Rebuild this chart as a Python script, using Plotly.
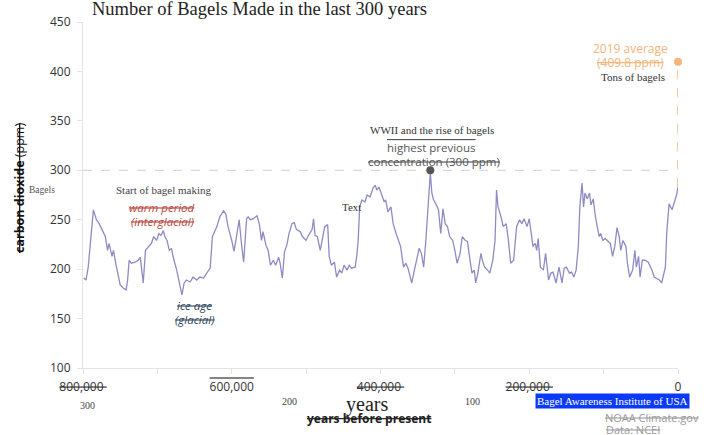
import plotly.graph_objects as go

# CO2 record (thousand years before present, ppm)
years_kyr = [799, 796, 793, 789, 786, 782, 779, 775, 770, 767, 765, 761, 759, 756, 753, 750, 746, 742, 740, 738,
             735, 730, 726, 723, 721, 719, 716, 712, 708, 705, 701, 698, 695, 692, 690, 687, 684, 681, 679, 674,
             671, 667, 664, 661, 656, 652, 647, 643, 638, 634, 629, 626, 620, 616, 611, 608, 605, 600, 597, 593,
             590, 587, 584, 580, 578, 575, 571, 566, 563, 560, 558, 554, 551, 548, 544, 541, 537, 535, 532, 529,
             526, 523, 519, 516, 513, 508, 505, 500, 497, 492, 490, 488, 485, 481, 478, 475, 471, 469, 466, 462,
             459, 455, 452, 449, 445, 442, 439, 434, 432, 430, 428, 425, 421, 418, 414, 410, 407, 405, 402, 398,
             395, 393, 390, 386, 383, 379, 376, 373, 369, 366, 363, 358, 355, 351, 348, 345, 342, 339, 337, 334,
             333, 331, 329, 325, 322, 319, 316, 313, 310, 307, 303, 300, 297, 293, 290, 286, 283, 281, 277, 274,
             272, 269, 265, 263, 260, 256, 253, 249, 246, 244, 242, 238, 235, 231, 228, 225, 221, 217, 213, 210,
             207, 203, 200, 195, 192, 190, 188, 185, 181, 178, 174, 171, 168, 164, 160, 156, 153, 150, 146, 143,
             140, 137, 134, 132, 129, 127, 125, 122, 119, 117, 114, 111, 108, 106, 104, 101, 98, 95, 91, 88,
             85, 82, 79, 77, 74, 70, 68, 65, 61, 58, 56, 53, 51, 48, 44, 40, 35, 32, 29, 25,
             22, 20, 17, 15, 12, 8, 6, 4, 2, 0]
co2_ppm = [191, 189, 202, 233, 260, 250, 247, 241, 233, 219, 226, 213, 219, 206, 196, 184, 181, 179, 189, 209,
           206, 207, 209, 212, 199, 186, 219, 223, 226, 233, 229, 236, 234, 239, 233, 229, 219, 221, 213, 199,
           189, 174, 186, 189, 187, 192, 189, 192, 191, 196, 201, 233, 243, 253, 259, 256, 243, 229, 218, 236,
           250, 226, 207, 251, 253, 250, 251, 254, 246, 229, 238, 224, 219, 204, 209, 204, 212, 206, 191, 218,
           224, 236, 246, 247, 240, 238, 233, 229, 234, 240, 251, 234, 233, 219, 231, 243, 245, 213, 204, 207,
           192, 199, 196, 204, 199, 204, 201, 202, 213, 229, 263, 270, 268, 275, 273, 282, 285, 280, 283, 275,
           268, 270, 258, 263, 246, 236, 229, 223, 202, 206, 201, 186, 197, 209, 221, 216, 202, 229, 253, 290,
           298, 277, 271, 265, 260, 236, 261, 246, 243, 233, 229, 219, 206, 216, 233, 229, 228, 216, 196, 199,
           186, 196, 216, 209, 202, 199, 196, 209, 229, 280, 263, 253, 243, 246, 229, 206, 209, 243, 250, 246,
           251, 243, 251, 223, 226, 219, 231, 202, 199, 216, 189, 196, 197, 186, 202, 186, 201, 202, 196, 197,
           192, 199, 223, 263, 287, 263, 277, 271, 277, 265, 271, 253, 243, 233, 236, 229, 231, 229, 226, 213,
           223, 242, 233, 219, 229, 223, 206, 192, 199, 219, 202, 213, 192, 209, 209, 207, 199, 192, 191, 189,
           186, 194, 202, 238, 266, 260, 265, 270, 275, 283]

years = [k * 1000 for k in years_kyr]

prev_high_year = [333000]
prev_high_ppm = [300]
avg2019_year = [0]
avg2019_ppm = [409.8]

x_tickvals = [800000, 700000, 600000, 500000, 400000, 300000, 200000, 100000, 0]
x_ticktext = ["<s>800,000 </s>", "", "<span style='text-decoration:overline'>600,000</span>", "",
              "<s>400,000 </s>", "", "<s>200,000 </s>", "", "0"]
y_tickvals = [100, 150, 200, 250, 300, 350, 400, 450]

# plot box in window pixels: left 83, right 678, top 22, bottom 368
PL, PR, PT, PB = 83, 678, 22, 368
W, H = 707, 435
pw, ph = PR - PL, PB - PT


def px(xp):
    return (xp - PL) / pw


def py(yp):
    return (PB - yp) / ph


fig = go.Figure()

fig.add_trace(go.Scatter(x=years, y=co2_ppm, mode="lines",
                         line=dict(color="#8e8bc3", width=1.3), hoverinfo="skip"))

# 300 ppm dashed reference
fig.add_shape(type="line", xref="x", yref="y", x0=800000, x1=3000, y0=300, y1=300,
              line=dict(color="#d0d0d0", width=1, dash="dash"), layer="below")
# orange dashed to 2019 average
fig.add_shape(type="line", xref="x", yref="y", x0=0, x1=0, y0=co2_ppm[-1], y1=avg2019_ppm[0],
              line=dict(color="#f2b67c", width=1.5, dash="dash"))

fig.add_trace(go.Scatter(x=prev_high_year, y=prev_high_ppm, mode="markers",
                         marker=dict(color="#555555", size=8), cliponaxis=False, hoverinfo="skip"))
fig.add_trace(go.Scatter(x=avg2019_year, y=avg2019_ppm, mode="markers",
                         marker=dict(color="#f2b67c", size=8), cliponaxis=False, hoverinfo="skip"))

serif = "Liberation Serif"
sans = "Open Sans"


def ann(text, xp, yp, size=11, color="#333", family=serif, xanchor="center", **kw):
    fig.add_annotation(text=text, xref="paper", yref="paper", x=px(xp), y=py(yp),
                       xanchor=xanchor, yanchor="middle", showarrow=False,
                       font=dict(size=size, color=color, family=family), **kw)


ann("Number of Bagels Made in the last 300 years", 90, 9, size=18.5, color="#222", xanchor="left")
ann("Start of bagel making", 164, 190, size=11, color="#444")
ann("<s><i>warm period</i></s>", 162, 207, size=11.5, color="#b8473f", family=sans)
ann("<s><i>(interglacial)</i></s>", 162, 221, size=11.5, color="#b8473f", family=sans)
ann("<s><i>ice age</i></s>", 194, 305, size=11.5, color="#34475e", family=sans)
ann("<s><i>(glacial)</i></s>", 194, 319, size=11.5, color="#34475e", family=sans)
ann("Text", 351, 207, size=11, color="#333")
ann("WWII and the rise of bagels", 432, 130, size=11, color="#333")
ann("<span style='text-decoration:overline'>highest previous</span>", 431, 147.5, size=11.5, color="#555", family=sans)
ann("<s>concentration (300 ppm)</s>", 434, 161, size=11.5, color="#555", family=sans)
ann("2019 average", 630, 48.5, size=12, color="#f2b67c", family=sans)
ann("<s>(409.8 ppm)</s>", 630, 62, size=12, color="#f2b67c", family=sans)
ann("Tons of bagels", 633, 77, size=11, color="#333")
ann("Bagels", 42, 190, size=9.5, color="#555")
ann("<s><b>carbon dioxide</b> (ppm)</s>", 19, 188, size=12.5, color="#111", family=sans, textangle=-90)
ann("300", 87, 405, size=10, color="#444")
ann("200", 289, 401, size=10, color="#444")
ann("100", 472, 401, size=10, color="#444")
ann("years", 367, 404, size=20, color="#222")
ann("<s><b>years before present</b></s>", 369, 418, size=12, color="#222", family=sans)
ann("Bagel Awareness Institute of USA", 612, 401, size=11, color="#ffffff", bgcolor="#0a3af5",
    borderpad=1)
ann("<s>NOAA Climate.gov</s>", 603, 417, size=11, color="#9a9a9a", family=sans, xanchor="left")
ann("<s>Data: NCEI</s>", 604, 429, size=11, color="#9a9a9a", family=sans, xanchor="left")

fig.update_layout(
    width=W, height=H,
    margin=dict(l=PL, r=W - PR, t=PT, b=H - PB, autoexpand=False),
    plot_bgcolor="white", paper_bgcolor="white",
    showlegend=False,
    font=dict(family=sans, size=12, color="#444"),
    xaxis=dict(range=[800000, 0], tickvals=x_tickvals, ticktext=x_ticktext,
               showgrid=False, zeroline=False, showline=True, linecolor="#e3e3e3", linewidth=1,
               ticks="outside", ticklen=5, tickcolor="#e3e3e3", ticklabelstandoff=3,
               tickfont=dict(family=sans, size=12, color="#333")),
    yaxis=dict(range=[100, 450], tickvals=y_tickvals,
               showgrid=False, zeroline=False, showline=True, linecolor="#e3e3e3", linewidth=1,
               ticks="outside", ticklen=5, tickcolor="#e3e3e3", ticklabelstandoff=4,
               tickfont=dict(family=sans, size=12, color="#333")),
)

fig.write_html("out.html", config={"displayModeBar": False},
               post_script="document.body.style.margin='0px';")
